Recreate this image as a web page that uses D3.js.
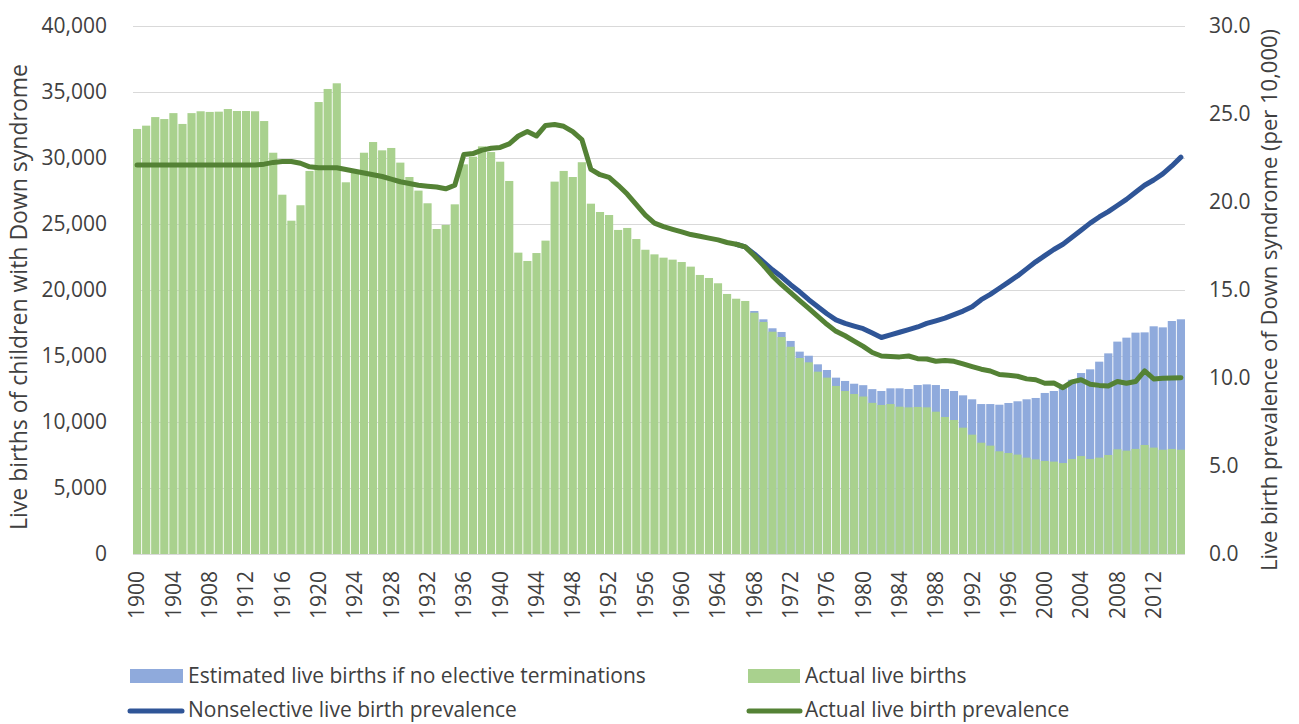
<!DOCTYPE html>
<html>
<head>
<meta charset="utf-8">
<script src="https://cdn.jsdelivr.net/npm/d3@7"></script>
<style>
body { margin: 0; background: #fff; }
text { font-family: "Open Sans", "Noto Sans", sans-serif; fill: #404040; }
</style>
</head>
<body>
<div id="chart"></div>
<script>
// categories
var firstYear = 1900, lastYear = 2015;
var years = d3.range(firstYear, lastYear + 1);
var yearTicks = [1900, 1904, 1908, 1912, 1916, 1920, 1924, 1928, 1932, 1936, 1940, 1944, 1948,
    1952, 1956, 1960, 1964, 1968, 1972, 1976, 1980, 1984, 1988, 1992, 1996, 2000, 2004, 2008, 2012];
var leftTicks = [0, 5000, 10000, 15000, 20000, 25000, 30000, 35000, 40000];
var rightTicks = [0, 5, 10, 15, 20, 25, 30];

// actual live births with Down syndrome, 1900-2015
var actualBirths = [
    32200, 32450, 33100, 32950, 33400, 32580, 33400, 33540, 33490, 33510,
    33710, 33560, 33560, 33540, 32800, 30400, 27220, 25250, 26420, 29020,
    34240, 35230, 35660, 28160, 28990, 30400, 31210, 30580, 30760, 29650,
    28560, 27530, 26570, 24620, 24930, 26490, 29520, 30100, 30880, 30450,
    29720, 28260, 22830, 22200, 22800, 23740, 28210, 29020, 28560, 29680,
    26540, 25910, 25680, 24550, 24700, 23860, 23050, 22700, 22450, 22300,
    22120, 21770, 21140, 20910, 20510, 19700, 19340, 19170, 18280, 17580,
    16840, 16440, 15700, 14850, 14520, 13810, 13360, 12730, 12350, 12120,
    11930, 11450, 11290, 11360, 11160, 11110, 11140, 11110, 10780, 10380,
    10150, 9570, 9040, 8430, 8210, 7780, 7650, 7530, 7300, 7170,
    7050, 7000, 6890, 7200, 7420, 7200, 7300, 7500, 7930, 7830,
    7960, 8260, 8060, 7900, 7960, 7900
];

// estimated live births if no elective terminations (none shown before 1968)
var estimatedBirths = [
    null, null, null, null, null, null, null, null, null, null,
    null, null, null, null, null, null, null, null, null, null,
    null, null, null, null, null, null, null, null, null, null,
    null, null, null, null, null, null, null, null, null, null,
    null, null, null, null, null, null, null, null, null, null,
    null, null, null, null, null, null, null, null, null, null,
    null, null, null, null, null, null, null, null, 18410, 17780,
    17100, 16820, 16140, 15330, 15020, 14370, 13940, 13360, 13110, 12900,
    12790, 12490, 12350, 12550, 12550, 12500, 12800, 12850, 12800, 12500,
    12350, 12020, 11720, 11360, 11360, 11310, 11440, 11570, 11720, 11820,
    12200, 12350, 12650, 13200, 13710, 13990, 14570, 15200, 16090, 16390,
    16770, 16790, 17250, 17170, 17650, 17780
];

// actual live birth prevalence per 10,000
var actualPrev = [
    22.1, 22.1, 22.1, 22.1, 22.1, 22.1, 22.1, 22.1, 22.1, 22.1,
    22.1, 22.1, 22.1, 22.1, 22.15, 22.25, 22.3, 22.3, 22.2, 22.0,
    21.95, 21.95, 21.95, 21.85, 21.75, 21.65, 21.55, 21.45, 21.3, 21.15,
    21.05, 20.95, 20.9, 20.85, 20.75, 20.95, 22.7, 22.75, 22.95, 23.05,
    23.1, 23.3, 23.75, 24.0, 23.75, 24.35, 24.4, 24.3, 24.0, 23.55,
    21.85, 21.55, 21.4, 20.95, 20.45, 19.85, 19.25, 18.8, 18.6, 18.45,
    18.3, 18.15, 18.05, 17.95, 17.85, 17.7, 17.6, 17.45, 16.95, 16.4,
    15.8, 15.3, 14.85, 14.4, 13.95, 13.5, 13.05, 12.65, 12.4, 12.1,
    11.8, 11.45, 11.25, 11.22, 11.2, 11.25, 11.1, 11.08, 10.95, 11.0,
    10.95, 10.8, 10.65, 10.5, 10.4, 10.2, 10.15, 10.1, 9.95, 9.9,
    9.7, 9.72, 9.45, 9.78, 9.9, 9.65, 9.58, 9.55, 9.8, 9.7,
    9.8, 10.4, 9.95, 9.98, 10.0, 10.02
];

// nonselective live birth prevalence per 10,000 (same as actual until 1967)
var nonselectivePrev = [
    null, null, null, null, null, null, null, null, null, null,
    null, null, null, null, null, null, null, null, null, null,
    null, null, null, null, null, null, null, null, null, null,
    null, null, null, null, null, null, null, null, null, null,
    null, null, null, null, null, null, null, null, null, null,
    null, null, null, null, null, null, null, null, null, null,
    null, null, null, null, null, null, 17.6, 17.45, 17.05, 16.6,
    16.15, 15.75, 15.3, 14.9, 14.45, 14.05, 13.65, 13.3, 13.1, 12.95,
    12.8, 12.55, 12.3, 12.45, 12.6, 12.75, 12.9, 13.1, 13.25, 13.4,
    13.6, 13.8, 14.05, 14.45, 14.75, 15.1, 15.45, 15.8, 16.2, 16.6,
    16.95, 17.3, 17.6, 18.0, 18.4, 18.8, 19.15, 19.45, 19.8, 20.15,
    20.55, 20.95, 21.25, 21.6, 22.05, 22.55
];

var colors = {
    estimated: "#8FAADC",
    actual: "#A9D18E",
    nonselLine: "#2F5597",
    actualLine: "#548235",
    grid: "#D9D9D9"
};

function draw_chart() {
    var margin = { top: 26, right: 114, bottom: 170, left: 133 };
    var width  = 1299 - margin.left - margin.right;
    var height = 724 - margin.top - margin.bottom;

    var root = d3.select("#chart")
        .append("svg")
        .attr("width", 1299)
        .attr("height", 724);

    var svg = root.append("g")
        .attr("transform", "translate(" + margin.left + "," + margin.top + ")");

    var x = d3.scaleBand()
        .domain(years)
        .range([0, width])
        .paddingInner(0.1)
        .paddingOuter(0);

    var yLeft = d3.scaleLinear().domain([0, 40000]).range([height, 0]);
    var yRight = d3.scaleLinear().domain([0, 30]).range([height, 0]);

    // gridlines
    svg.append("g")
        .selectAll("line")
        .data(leftTicks)
        .enter().append("line")
        .attr("x1", 0)
        .attr("x2", width)
        .attr("y1", function(d) { return Math.round(yLeft(d)) + 0.5; })
        .attr("y2", function(d) { return Math.round(yLeft(d)) + 0.5; })
        .attr("stroke", colors.grid)
        .attr("stroke-width", 1);

    var rows = years.map(function(y, i) {
        return { year: y, actual: actualBirths[i], estimated: estimatedBirths[i],
                 aPrev: actualPrev[i], nPrev: nonselectivePrev[i] };
    });

    // estimated bars (behind)
    svg.append("g")
        .selectAll("rect")
        .data(rows.filter(function(d) { return d.estimated !== null; }))
        .enter().append("rect")
        .attr("x", function(d) { return x(d.year); })
        .attr("width", x.bandwidth())
        .attr("y", function(d) { return yLeft(d.estimated); })
        .attr("height", function(d) { return height - yLeft(d.estimated); })
        .attr("fill", colors.estimated);

    // actual bars
    svg.append("g")
        .selectAll("rect")
        .data(rows)
        .enter().append("rect")
        .attr("x", function(d) { return x(d.year); })
        .attr("width", x.bandwidth())
        .attr("y", function(d) { return yLeft(d.actual); })
        .attr("height", function(d) { return height - yLeft(d.actual); })
        .attr("fill", colors.actual);

    var cx = function(d) { return x(d.year) + x.bandwidth() / 2; };

    svg.append("path")
        .datum(rows)
        .attr("fill", "none")
        .attr("stroke", colors.nonselLine)
        .attr("stroke-width", 5)
        .attr("stroke-linejoin", "round")
        .attr("stroke-linecap", "round")
        .attr("d", d3.line()
            .defined(function(d) { return d.nPrev !== null; })
            .x(cx)
            .y(function(d) { return yRight(d.nPrev); }));

    svg.append("path")
        .datum(rows)
        .attr("fill", "none")
        .attr("stroke", colors.actualLine)
        .attr("stroke-width", 5)
        .attr("stroke-linejoin", "round")
        .attr("stroke-linecap", "round")
        .attr("d", d3.line()
            .x(cx)
            .y(function(d) { return yRight(d.aPrev); }));

    // axes
    var left = svg.append("g")
        .call(d3.axisLeft(yLeft).tickValues(leftTicks).tickSize(0).tickPadding(26)
            .tickFormat(d3.format(",")));
    left.select(".domain").remove();
    left.selectAll("text").style("font-size", "21px").style("fill", "#404040");

    var right = svg.append("g")
        .attr("transform", "translate(" + width + ",0)")
        .call(d3.axisRight(yRight).tickValues(rightTicks).tickSize(0).tickPadding(24)
            .tickFormat(d3.format(".1f")));
    right.select(".domain").remove();
    right.selectAll("text").style("font-size", "21px").style("fill", "#404040");

    var bottom = svg.append("g")
        .attr("transform", "translate(0," + height + ")")
        .call(d3.axisBottom(x).tickValues(yearTicks).tickSize(0));
    bottom.select(".domain").remove();
    bottom.selectAll("text")
        .attr("y", 0)
        .attr("x", -17)
        .attr("dy", "0.35em")
        .attr("transform", "rotate(-90)")
        .style("text-anchor", "end")
        .style("font-size", "21px")
        .style("fill", "#404040");

    // axis titles
    root.append("text")
        .attr("transform", "translate(27,297) rotate(-90)")
        .attr("text-anchor", "middle")
        .style("font-size", "23px")
        .text("Live births of children with Down syndrome");

    root.append("text")
        .attr("transform", "translate(1277,300) rotate(-90)")
        .attr("text-anchor", "middle")
        .style("font-size", "22px")
        .text("Live birth prevalence of Down syndrome (per 10,000)");

    // legend
    var legend = root.append("g").style("font-size", "21px");

    legend.append("rect").attr("x", 130).attr("y", 669).attr("width", 53).attr("height", 14)
        .attr("fill", colors.estimated);
    legend.append("text").attr("x", 188).attr("y", 676).attr("dy", "0.35em")
        .text("Estimated live births if no elective terminations");

    legend.append("rect").attr("x", 748).attr("y", 669).attr("width", 52).attr("height", 14)
        .attr("fill", colors.actual);
    legend.append("text").attr("x", 805).attr("y", 676).attr("dy", "0.35em")
        .text("Actual live births");

    legend.append("line").attr("x1", 130).attr("x2", 182).attr("y1", 711).attr("y2", 711)
        .attr("stroke", colors.nonselLine).attr("stroke-width", 5).attr("stroke-linecap", "round");
    legend.append("text").attr("x", 188).attr("y", 710).attr("dy", "0.35em")
        .text("Nonselective live birth prevalence");

    legend.append("line").attr("x1", 749).attr("x2", 800).attr("y1", 711).attr("y2", 711)
        .attr("stroke", colors.actualLine).attr("stroke-width", 5).attr("stroke-linecap", "round");
    legend.append("text").attr("x", 805).attr("y", 710).attr("dy", "0.35em")
        .text("Actual live birth prevalence");
}

draw_chart();
</script>
</body>
</html>
